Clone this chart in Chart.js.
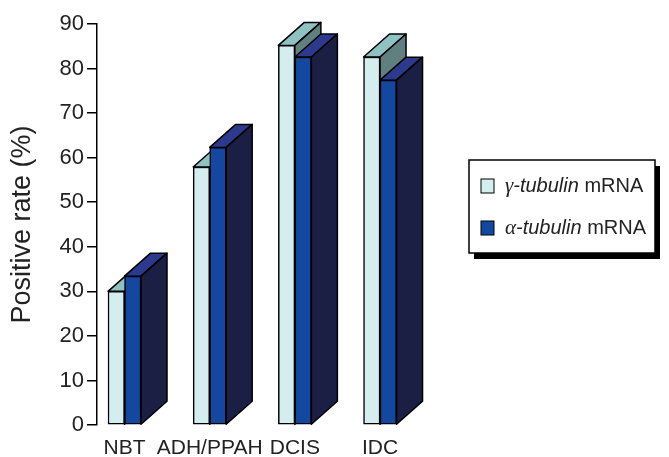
<!DOCTYPE html>
<html>
<head>
<meta charset="utf-8">
<script src="https://cdn.jsdelivr.net/npm/chart.js@4/dist/chart.umd.min.js"></script>
<style>
  html, body { margin: 0; padding: 0; background: #fff; }
  #wrap { width: 669px; height: 457px; }
</style>
</head>
<body>
<div id="wrap"><canvas id="c" width="669" height="457"></canvas></div>
<script>
// Tissue categories and positive rates (%) for each transcript
const categories = ['NBT', 'ADH/PPAH', 'DCIS', 'IDC'];
const gammaTubulin = [30, 57.9, 85.2, 82.6];
const alphaTubulin = [33.4, 62.3, 82.6, 77.4];
const seriesNames = ['γ-tubulin mRNA', 'α-tubulin mRNA'];
const yTickValues = [0, 10, 20, 30, 40, 50, 60, 70, 80, 90];

const FONT = '"Liberation Sans", Arial, Helvetica, sans-serif';
const INK = '#222';

// Extruded look: each bar gets a top face and a right-hand side face
const DEPTH_X = 26;
const DEPTH_Y = 23;

const extrudePlugin = {
  id: 'extrude',
  beforeDatasetsDraw(chart) {
    const ctx = chart.ctx;
    ctx.save();
    ctx.lineWidth = 1.5;
    ctx.lineJoin = 'round';
    ctx.strokeStyle = '#000';
    const face = (pts, fill) => {
      ctx.beginPath();
      ctx.moveTo(pts[0][0], pts[0][1]);
      for (let k = 1; k < pts.length; k++) ctx.lineTo(pts[k][0], pts[k][1]);
      ctx.closePath();
      ctx.fillStyle = fill;
      ctx.fill();
      ctx.stroke();
    };
    categories.forEach((_, i) => {
      chart.data.datasets.forEach((ds, d) => {
        const el = chart.getDatasetMeta(d).data[i];
        if (!el) return;
        const p = el.getProps(['x', 'y', 'base', 'width'], true);
        const l = p.x - p.width / 2, r = p.x + p.width / 2;
        face([[l, p.y], [l + DEPTH_X, p.y - DEPTH_Y], [r + DEPTH_X, p.y - DEPTH_Y], [r, p.y]], ds.topColor);
        face([[r, p.y], [r + DEPTH_X, p.y - DEPTH_Y], [r + DEPTH_X, p.base - DEPTH_Y], [r, p.base]], ds.sideColor);
      });
    });
    ctx.restore();
  }
};

// Boxed legend with a drop shadow; the gene name is italic, "mRNA" upright
const boxLegendPlugin = {
  id: 'boxLegend',
  afterDraw(chart) {
    const ctx = chart.ctx;
    const bx = 469, by = 160, bw = 186, bh = 93;
    ctx.save();
    ctx.fillStyle = '#000';
    ctx.fillRect(bx + 5, by + 6, bw, bh);
    ctx.fillStyle = '#fff';
    ctx.fillRect(bx, by, bw, bh);
    ctx.lineWidth = 1.5;
    ctx.strokeStyle = '#000';
    ctx.strokeRect(bx, by, bw, bh);

    chart.data.datasets.forEach((ds, d) => {
      const cy = by + 26 + d * 42;
      ctx.fillStyle = ds.backgroundColor;
      ctx.fillRect(bx + 12, cy - 7, 13, 14);
      ctx.lineWidth = 1;
      ctx.strokeStyle = '#000';
      ctx.strokeRect(bx + 12, cy - 7, 13, 14);

      const label = ds.label;
      const sp = label.indexOf(' ');
      const greek = label.slice(0, 1);
      const gene = label.slice(1, sp);
      const rest = label.slice(sp);
      let x = bx + 36;
      ctx.fillStyle = INK;
      ctx.textBaseline = 'middle';
      ctx.font = 'italic 21px "Liberation Serif", serif';
      ctx.fillText(greek, x, cy);
      x += ctx.measureText(greek).width;
      ctx.font = 'italic 20px ' + FONT;
      ctx.fillText(gene, x, cy);
      x += ctx.measureText(gene).width;
      ctx.font = '20px ' + FONT;
      ctx.fillText(rest, x, cy);
    });
    ctx.restore();
  }
};

const toPoints = arr => arr.map((v, i) => ({ x: i, y: v }));

new Chart(document.getElementById('c'), {
  type: 'bar',
  data: {
    datasets: [
      {
        label: seriesNames[0],
        data: toPoints(gammaTubulin),
        backgroundColor: '#d4eef0',
        topColor: '#8fc3c3',
        sideColor: '#5f807e',
        borderColor: '#000',
        borderWidth: 1.5,
        borderSkipped: false,
        barThickness: 16.5
      },
      {
        label: seriesNames[1],
        data: toPoints(alphaTubulin),
        backgroundColor: '#1447a0',
        topColor: '#2b3a8e',
        sideColor: '#1b1f44',
        borderColor: '#000',
        borderWidth: 1.5,
        borderSkipped: false,
        barThickness: 16.5
      }
    ]
  },
  options: {
    responsive: false,
    animation: false,
    devicePixelRatio: 1,
    layout: { padding: { left: 0, right: 229, top: 24, bottom: 0 } },
    plugins: {
      legend: { display: false },
      tooltip: { enabled: false }
    },
    scales: {
      x: {
        type: 'linear',
        offset: false,
        min: -0.323,
        max: 3.704,
        grid: { display: false, drawTicks: false, offset: false },
        border: { display: false },
        afterBuildTicks: s => { s.ticks = categories.map((_, i) => ({ value: i })); },
        afterFit: s => { s.height = 32; },
        ticks: {
          autoSkip: false,
          maxRotation: 0,
          padding: 11,
          color: INK,
          font: { family: FONT, size: 21 },
          callback: v => categories[v] ?? ''
        }
      },
      y: {
        min: 0,
        max: 90,
        afterBuildTicks: s => { s.ticks = yTickValues.map(v => ({ value: v })); },
        afterFit: s => { s.width = 97; },
        grid: { drawOnChartArea: false, drawTicks: true, tickLength: 10, color: '#000', lineWidth: 1.5 },
        border: { display: true, color: '#000', width: 1.5 },
        ticks: {
          padding: 3,
          color: INK,
          font: { family: FONT, size: 22 }
        },
        title: {
          display: true,
          text: 'Positive rate (%)',
          color: INK,
          font: { family: FONT, size: 27 },
          padding: { top: 6, bottom: 0 }
        }
      }
    }
  },
  plugins: [extrudePlugin, boxLegendPlugin]
});
</script>
</body>
</html>
